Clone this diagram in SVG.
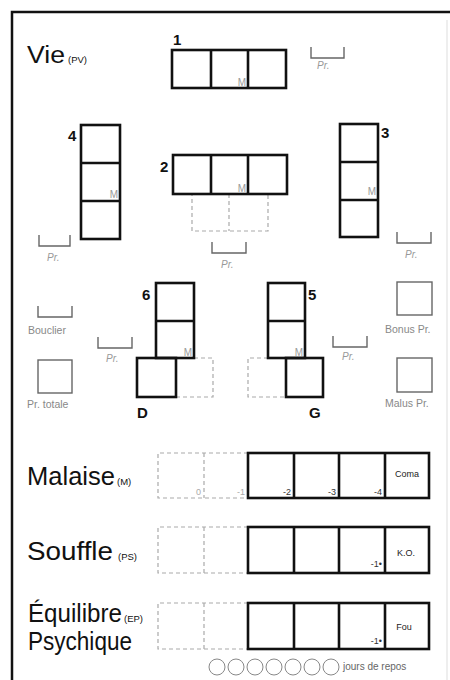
<svg xmlns="http://www.w3.org/2000/svg" width="450" height="680" viewBox="0 0 450 680">
<style>
.b{fill:none;stroke:#111;stroke-width:2.6}
.d{fill:none;stroke:#aaa;stroke-width:1.2;stroke-dasharray:4 3}
.br{fill:none;stroke:#666;stroke-width:1.4}
.t{font-family:"Liberation Sans",Arial,sans-serif;fill:#111}
.big{font-size:25px}
.sm{font-size:9.5px}
.num{font-family:"Liberation Sans",Arial,sans-serif;font-weight:bold;font-size:15px;fill:#111}
.m{font-family:"Liberation Sans",Arial,sans-serif;font-size:10px;fill:#999;text-anchor:end}
.pr{font-family:"Liberation Sans",Arial,sans-serif;font-size:10px;fill:#999;font-style:italic}
.g{font-family:"Liberation Sans",Arial,sans-serif;font-size:10.5px;fill:#888}
.lb{font-family:"Liberation Sans",Arial,sans-serif;font-size:9px;fill:#333;text-anchor:end}
.lg{font-family:"Liberation Sans",Arial,sans-serif;font-size:9px;fill:#aaa;text-anchor:end}
.st{font-family:"Liberation Sans",Arial,sans-serif;font-size:9px;fill:#222;text-anchor:middle}
</style>
<rect width="450" height="680" fill="#fff"/>
<g id="frame">
<path d="M12 680 V12 H450" fill="none" stroke="#111" stroke-width="2.5"/>
<line x1="447" y1="20" x2="447" y2="680" stroke="#ddd" stroke-width="1"/>
</g>

<g id="vie-label">
<text class="t" x="27" y="63" font-size="23" textLength="38" lengthAdjust="spacingAndGlyphs">Vie</text>
<text class="t sm" x="68" y="63">(PV)</text>
</g>

<g id="loc1">
<rect class="b" x="172" y="50" width="114" height="38"/>
<line class="b" x1="211" y1="50" x2="211" y2="88"/>
<line class="b" x1="248" y1="50" x2="248" y2="88"/>
<text class="num" x="173" y="45">1</text>
<text class="m" x="246" y="86">M</text>
</g>
<g id="pr1">
<path class="br" d="M311 47 V58 H344 V47"/>
<text class="pr" x="317" y="69">Pr.</text>
</g>

<g id="loc4">
<rect class="b" x="81" y="125" width="39" height="114"/>
<line class="b" x1="81" y1="163" x2="120" y2="163"/>
<line class="b" x1="81" y1="201" x2="120" y2="201"/>
<text class="num" x="68" y="141">4</text>
<text class="m" x="118" y="198">M</text>
</g>
<g id="pr4">
<path class="br" d="M39 235 V246 H70 V235"/>
<text class="pr" x="47" y="261">Pr.</text>
</g>

<g id="loc2">
<rect class="d" x="192" y="194" width="76" height="37"/>
<line class="d" x1="229" y1="194" x2="229" y2="231"/>
<rect class="b" x="173" y="155" width="114" height="39"/>
<line class="b" x1="211" y1="155" x2="211" y2="194"/>
<line class="b" x1="248" y1="155" x2="248" y2="194"/>
<text class="num" x="160" y="172">2</text>
<text class="m" x="246" y="192">M</text>
</g>
<g id="pr2">
<path class="br" d="M212 242 V253 H246 V242"/>
<text class="pr" x="221" y="268">Pr.</text>
</g>

<g id="loc3">
<rect class="b" x="340" y="124" width="38" height="113"/>
<line class="b" x1="340" y1="162" x2="378" y2="162"/>
<line class="b" x1="340" y1="200" x2="378" y2="200"/>
<text class="num" x="381" y="138">3</text>
<text class="m" x="376" y="195">M</text>
</g>
<g id="pr3">
<path class="br" d="M397 232 V243 H431 V232"/>
<text class="pr" x="405" y="258">Pr.</text>
</g>

<g id="bouclier">
<path class="br" d="M38 306 V317 H72 V306"/>
<text class="g" x="28" y="334">Bouclier</text>
</g>
<g id="pr-totale">
<rect class="br" x="38" y="360" width="34" height="33"/>
<text class="g" x="27" y="408">Pr. totale</text>
</g>

<g id="pr6">
<path class="br" d="M98 337 V348 H132 V337"/>
<text class="pr" x="106" y="362">Pr.</text>
</g>
<g id="loc6">
<path class="d" d="M194 358 H213 V397 H176"/>
<rect class="b" x="156" y="283" width="38" height="75"/>
<line class="b" x1="156" y1="321" x2="194" y2="321"/>
<rect class="b" x="137" y="358" width="39" height="39"/>
<text class="num" x="142" y="300">6</text>
<text class="m" x="192" y="356">M</text>
<text class="num" x="137" y="418" font-size="18">D</text>
</g>

<g id="loc5">
<path class="d" d="M268 358 H248 V397 H286"/>
<rect class="b" x="268" y="283" width="37" height="75"/>
<line class="b" x1="268" y1="321" x2="305" y2="321"/>
<rect class="b" x="286" y="358" width="37" height="39"/>
<text class="num" x="308" y="300">5</text>
<text class="m" x="303" y="356">M</text>
<text class="num" x="309" y="418" font-size="18">G</text>
</g>
<g id="pr5">
<path class="br" d="M333 336 V347 H367 V336"/>
<text class="pr" x="342" y="360">Pr.</text>
</g>

<g id="bonus">
<rect class="br" x="397" y="282" width="35" height="33"/>
<text class="g" x="385" y="333">Bonus Pr.</text>
</g>
<g id="malus">
<rect class="br" x="397" y="358" width="35" height="34"/>
<text class="g" x="385" y="407">Malus Pr.</text>
</g>

<g id="malaise">
<text class="t big" x="27" y="485" textLength="88" lengthAdjust="spacingAndGlyphs">Malaise</text>
<text class="t sm" x="117" y="485">(M)</text>
<path class="d" d="M248 453 H158 V498 H248 M204 453 V498"/>
<rect class="b" x="248" y="453" width="181" height="45"/>
<line class="b" x1="294" y1="453" x2="294" y2="498"/>
<line class="b" x1="339" y1="453" x2="339" y2="498"/>
<line class="b" x1="385" y1="453" x2="385" y2="498"/>
<text class="lg" x="201" y="495">0</text>
<text class="lg" x="245" y="495">-1</text>
<text class="lb" x="291" y="495">-2</text>
<text class="lb" x="336" y="495">-3</text>
<text class="lb" x="382" y="495">-4</text>
<text class="st" x="407" y="477">Coma</text>
</g>

<g id="souffle">
<text class="t big" x="27" y="560" textLength="86" lengthAdjust="spacingAndGlyphs">Souffle</text>
<text class="t sm" x="118" y="560">(PS)</text>
<path class="d" d="M248 527 H158 V573 H248 M204 527 V573"/>
<rect class="b" x="248" y="527" width="181" height="46"/>
<line class="b" x1="294" y1="527" x2="294" y2="573"/>
<line class="b" x1="339" y1="527" x2="339" y2="573"/>
<line class="b" x1="385" y1="527" x2="385" y2="573"/>
<text class="lb" x="382" y="567">-1•</text>
<text class="st" x="406" y="556">K.O.</text>
</g>

<g id="equilibre">
<text class="t big" x="28" y="622" textLength="94" lengthAdjust="spacingAndGlyphs">Équilibre</text>
<text class="t sm" x="124" y="622">(EP)</text>
<text class="t big" x="28" y="650" textLength="104" lengthAdjust="spacingAndGlyphs">Psychique</text>
<path class="d" d="M248 603 H158 V649 H248 M204 603 V649"/>
<rect class="b" x="248" y="603" width="181" height="46"/>
<line class="b" x1="294" y1="603" x2="294" y2="649"/>
<line class="b" x1="339" y1="603" x2="339" y2="649"/>
<line class="b" x1="385" y1="603" x2="385" y2="649"/>
<text class="lb" x="382" y="644">-1•</text>
<text class="st" x="404" y="630">Fou</text>
</g>

<g id="repos" fill="none" stroke="#888" stroke-width="1">
<circle cx="217" cy="667" r="8"/>
<circle cx="236" cy="667" r="8"/>
<circle cx="255" cy="667" r="8"/>
<circle cx="274" cy="667" r="8"/>
<circle cx="293" cy="667" r="8"/>
<circle cx="312" cy="667" r="8"/>
<circle cx="331" cy="667" r="8"/>
<text x="343" y="670" stroke="none" fill="#666" font-family="Liberation Sans, Arial, sans-serif" font-size="10px">jours de repos</text>
</g>
</svg>
